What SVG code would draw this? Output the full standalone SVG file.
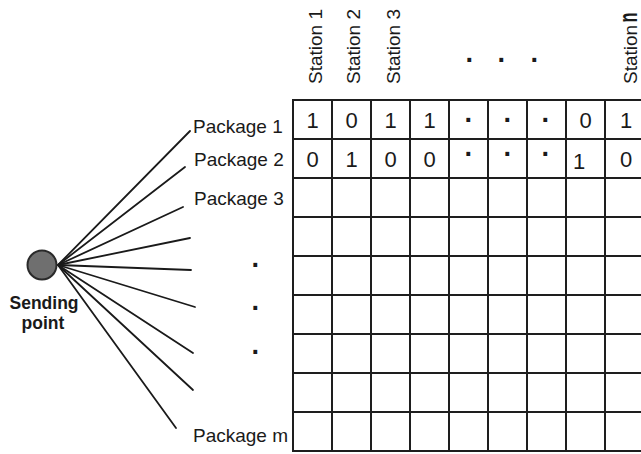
<svg xmlns="http://www.w3.org/2000/svg" width="641" height="454" viewBox="0 0 641 454">
  <style>
    .lbl { font-family: "Liberation Sans", Arial, sans-serif; font-size: 19px; fill: #1a1a1a; }
    .bit { font-family: "Liberation Sans", Arial, sans-serif; font-size: 22px; fill: #1a1a1a; text-anchor: middle; }
    .dot { font-family: "Liberation Sans", Arial, sans-serif; font-size: 27px; font-weight: bold; fill: #1a1a1a; text-anchor: middle; }
    .grid line { stroke: #1e1e1e; stroke-width: 2; }
    .links line { stroke: #1a1a1a; stroke-width: 1.8; stroke-linecap: round; }
    .hub { font-family: "Liberation Sans", Arial, sans-serif; font-size: 17.5px; font-weight: bold; fill: #1a1a1a; text-anchor: middle; }
  </style>
  <rect width="641" height="454" fill="#ffffff"/>

  <!-- station headers -->
  <g id="stations" class="lbl">
    <text transform="translate(322,84) rotate(-90)">Station 1</text>
    <text transform="translate(360,84) rotate(-90)">Station 2</text>
    <text transform="translate(400,84) rotate(-90)">Station 3</text>
    <text transform="translate(637,84) rotate(-90)">Station <tspan dx="-3" font-size="25" font-weight="bold" textLength="10" lengthAdjust="spacingAndGlyphs">n</tspan></text>
  </g>
  <text class="dot" x="470 502 535" y="69">···</text>

  <!-- package x station matrix -->
  <g id="matrix" class="grid">
    <line x1="293" y1="100" x2="641" y2="100"/>
    <line x1="293" y1="139" x2="641" y2="139"/>
    <line x1="293" y1="178" x2="641" y2="178"/>
    <line x1="293" y1="217" x2="641" y2="217"/>
    <line x1="293" y1="256" x2="641" y2="256"/>
    <line x1="293" y1="295" x2="641" y2="295"/>
    <line x1="293" y1="334" x2="641" y2="334"/>
    <line x1="293" y1="373" x2="641" y2="373"/>
    <line x1="293" y1="412" x2="641" y2="412"/>
    <line x1="293" y1="451" x2="641" y2="451"/>
    <line x1="293" y1="99" x2="293" y2="452"/>
    <line x1="332" y1="99" x2="332" y2="452"/>
    <line x1="371" y1="99" x2="371" y2="452"/>
    <line x1="410" y1="99" x2="410" y2="452"/>
    <line x1="449" y1="99" x2="449" y2="452"/>
    <line x1="488" y1="99" x2="488" y2="452"/>
    <line x1="527" y1="99" x2="527" y2="452"/>
    <line x1="566" y1="99" x2="566" y2="452"/>
    <line x1="605" y1="99" x2="605" y2="452"/>
  </g>

  <!-- row 1 bits -->
  <g id="row1">
    <text class="bit" x="312.5" y="128">1</text>
    <text class="bit" x="351.5" y="128">0</text>
    <text class="bit" x="390.5" y="128">1</text>
    <text class="bit" x="429.5" y="128">1</text>
    <text class="dot" x="469 508 546" y="129">···</text>
    <text class="bit" x="585.5" y="128">0</text>
    <text class="bit" x="626" y="128">1</text>
  </g>
  <!-- row 2 bits -->
  <g id="row2">
    <text class="bit" x="312.5" y="167">0</text>
    <text class="bit" x="351.5" y="167">1</text>
    <text class="bit" x="390.5" y="167">0</text>
    <text class="bit" x="429.5" y="167">0</text>
    <text class="dot" x="469 508 546" y="163">···</text>
    <text class="bit" x="579" y="169">1</text>
    <text class="bit" x="626" y="167">0</text>
  </g>

  <!-- package labels -->
  <g id="packages" class="lbl">
    <text x="193" y="133">Package 1</text>
    <text x="194" y="166">Package 2</text>
    <text x="194" y="205">Package 3</text>
    <text x="193" y="442">Package m</text>
  </g>
  <text class="dot" x="256 256 256" y="274 317 361">···</text>

  <!-- links from the sending point -->
  <g id="links" class="links">
    <line x1="58" y1="265" x2="190" y2="131"/>
    <line x1="58" y1="265" x2="185" y2="167"/>
    <line x1="58" y1="265" x2="183" y2="207"/>
    <line x1="58" y1="265" x2="190" y2="238"/>
    <line x1="58" y1="265" x2="191" y2="270"/>
    <line x1="58" y1="265" x2="195" y2="307"/>
    <line x1="58" y1="265" x2="193" y2="353"/>
    <line x1="58" y1="265" x2="193" y2="390"/>
    <line x1="58" y1="265" x2="176" y2="428"/>
  </g>

  <!-- sending point -->
  <g id="sending-point">
    <circle cx="42" cy="265" r="14.5" fill="#6f6f6f" stroke="#2a2a2a" stroke-width="2"/>
    <text class="hub" x="44" y="309">Sending</text>
    <text class="hub" x="43" y="329">point</text>
  </g>
</svg>
